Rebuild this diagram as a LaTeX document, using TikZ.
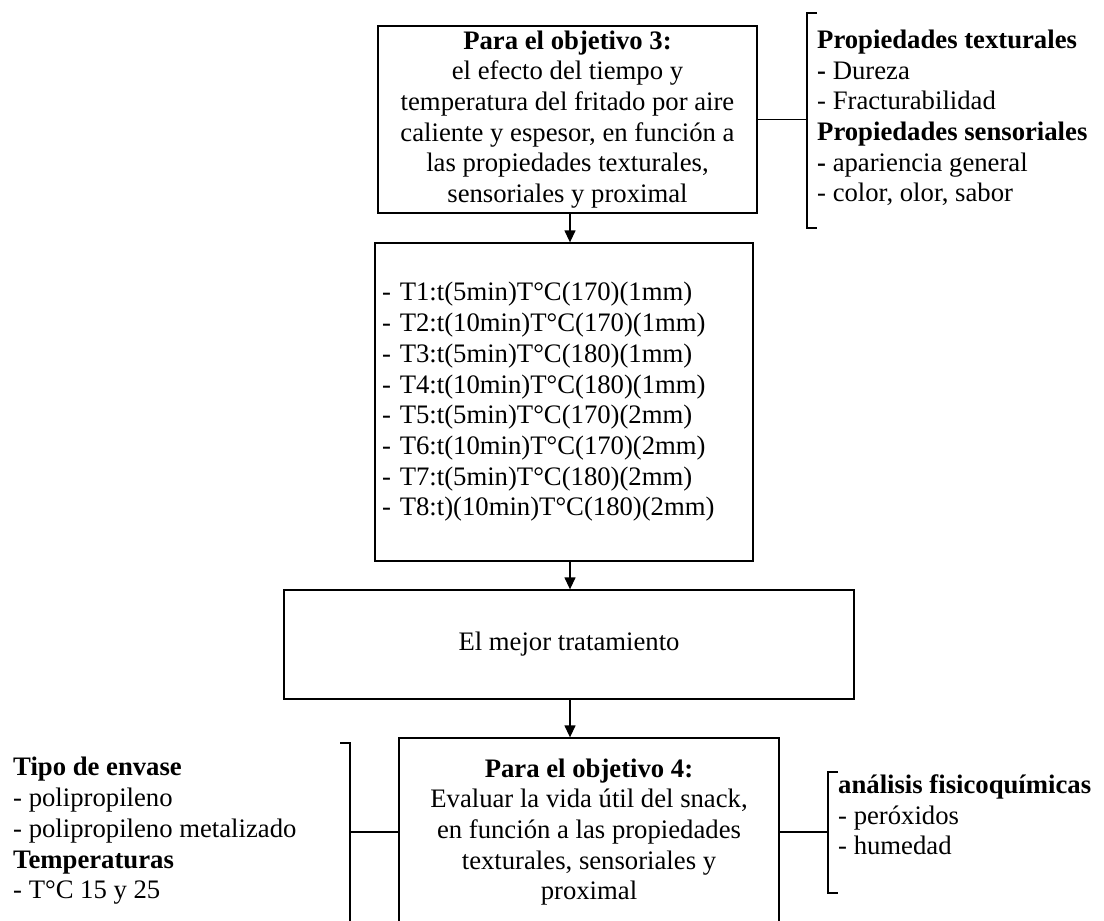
\documentclass[tikz,border=0pt]{standalone}
\usepackage{fontspec}
\setmainfont{Liberation Serif}
\usetikzlibrary{arrows.meta}
\begin{document}
\begin{tikzpicture}[x=1pt,y=-1pt,
  txt/.style={font=\fontsize{26.7}{30.7}\selectfont, inner sep=0pt},
  box/.style={draw, line width=1.3pt, txt, align=center},
  link/.style={line width=1.3pt},
  arr/.style={line width=1.3pt, -{Triangle[length=12pt,width=11pt]}},
  brk/.style={line width=1.3pt},
]
\useasboundingbox (0,0) rectangle (1104,921);
\clip (0,0) rectangle (1104,921);

% main chain of boxes
\node[box, minimum width=379pt, minimum height=187pt] (obj3) at (567.5,119.5)
  {\textbf{Para el objetivo 3:}\\el efecto del tiempo y\\temperatura del fritado por aire\\caliente y espesor, en función a\\las propiedades texturales,\\sensoriales y proximal};

\node[box, align=left, text width=364pt, minimum width=378pt, minimum height=318pt] (trat) at (564,402)
  {- T1:t(5min)T°C(170)(1mm)\\- T2:t(10min)T°C(170)(1mm)\\- T3:t(5min)T°C(180)(1mm)\\- T4:t(10min)T°C(180)(1mm)\\- T5:t(5min)T°C(170)(2mm)\\- T6:t(10min)T°C(170)(2mm)\\- T7:t(5min)T°C(180)(2mm)\\- T8:t)(10min)T°C(180)(2mm)};

\node[box, minimum width=570pt, minimum height=109pt] (mejor) at (569,644.5) {El mejor tratamiento};

\node[box, minimum width=380pt, minimum height=188pt] (obj4) at (589,832)
  {\textbf{Para el objetivo 4:}\\Evaluar la vida útil del snack,\\en función a las propiedades\\texturales, sensoriales y\\proximal};

% arrows down the chain
\coordinate (ax) at (570,0);
\draw[arr] (obj3.south -| ax) -- (trat.north -| ax);
\draw[arr] (trat.south -| ax) -- (mejor.north -| ax);
\draw[arr] (mejor.south -| ax) -- (obj4.north -| ax);

% properties measured for objective 3
\node[txt, anchor=west, align=left] (props) at (817,118)
  {\textbf{Propiedades texturales}\\\textbf{-} Dureza\\- Fracturabilidad\\\textbf{Propiedades sensoriales}\\\textbf{-} apariencia general\\- color, olor, sabor};
\coordinate (bt1) at (807,13);
\coordinate (bb1) at (807,228);
\draw[brk] (817,13) -- (bt1) -- (bb1) -- (817,228);
\draw[link] (obj3.east) -- (obj3.east -| bt1);

% storage conditions for objective 4
\node[txt, anchor=west, align=left] (env) at (13,831)
  {\textbf{Tipo de envase}\\- polipropileno\\- polipropileno metalizado\\\textbf{Temperaturas}\\- T°C 15 y 25};
\coordinate (bt2) at (350,743);
\coordinate (bb2) at (350,922);
\draw[brk] (340,743) -- (bt2) -- (bb2) -- (340,922);
\draw[link] (obj4.west) -- (obj4.west -| bt2);

% analyses for objective 4
\node[txt, anchor=west, align=left] (anal) at (838,815)
  {\textbf{análisis fisicoquímicas}\\- peróxidos\\- humedad};
\coordinate (bt3) at (828,772);
\coordinate (bb3) at (828,893);
\draw[brk] (838,772) -- (bt3) -- (bb3) -- (838,893);
\draw[link] (obj4.east) -- (obj4.east -| bt3);
\end{tikzpicture}
\end{document}
